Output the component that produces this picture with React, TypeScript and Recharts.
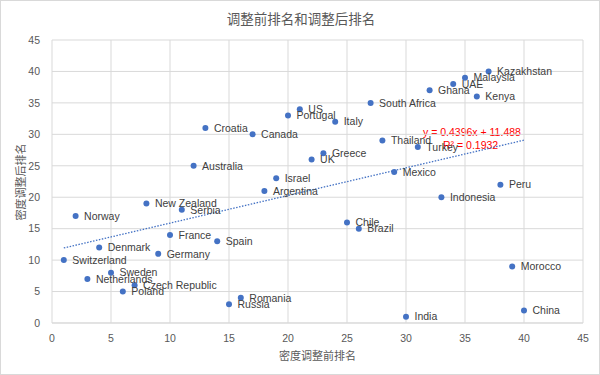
import React from 'react';
import { ScatterChart, Scatter, XAxis, YAxis, CartesianGrid, LabelList, ReferenceLine, Label } from 'recharts';

// 40 countries, rank before / after density adjustment
const countries = [
  'Switzerland', 'Norway', 'Netherlands', 'Denmark', 'Sweden', 'Poland', 'Czech Republic', 'New Zealand',
  'Germany', 'France', 'Serbia', 'Australia', 'Croatia', 'Spain', 'Russia', 'Romania', 'Canada',
  'Argentina', 'Israel', 'Portugal', 'US', 'UK', 'Greece', 'Italy', 'Chile', 'Brazil', 'South Africa',
  'Thailand', 'Mexico', 'India', 'Turkey', 'Ghana', 'Indonesia', 'UAE', 'Malaysia', 'Kenya',
  'Kazakhstan', 'Peru', 'Morocco', 'China',
];
const rankBefore = [
  1, 2, 3, 4, 5, 6, 7, 8, 9, 10, 11, 12, 13, 14, 15, 16, 17, 18, 19, 20,
  21, 22, 23, 24, 25, 26, 27, 28, 29, 30, 31, 32, 33, 34, 35, 36, 37, 38, 39, 40,
];
const rankAfter = [
  10, 17, 7, 12, 8, 5, 6, 19, 11, 14, 18, 25, 31, 13, 3, 4, 30, 21, 23, 33,
  34, 26, 27, 32, 16, 15, 35, 29, 24, 1, 28, 37, 20, 38, 39, 36, 40, 22, 9, 2,
];
const axisTicks = [0, 5, 10, 15, 20, 25, 30, 35, 40, 45];

// linear trendline as printed on the chart
const slope = 0.4396;
const intercept = 11.488;
const rSquared = 0.1932;
const trendRange = [1, 40];

const data = countries.map((name, i) => ({ name, x: rankBefore[i], y: rankAfter[i] }));
const trendSegment = trendRange.map((x) => ({ x, y: slope * x + intercept }));

const cjk = '"Noto Sans CJK SC", sans-serif';
const latin = '"Liberation Sans", Arial, sans-serif';

export default function App() {
  return (
    <div style={{ position: 'absolute', left: 0, top: 0, width: 600, height: 375, background: '#fff', boxSizing: 'border-box', border: '1px solid #d9d9d9' }}>
      <div style={{ position: 'absolute', left: 0, width: 600, top: 7, textAlign: 'center', fontFamily: cjk, fontSize: 13.5, color: '#595959' }}>
        调整前排名和调整后排名
      </div>
      <div style={{ position: 'absolute', left: 19, top: 181, transform: 'translate(-50%, -50%) rotate(-90deg)', fontFamily: cjk, fontSize: 11, color: '#595959', whiteSpace: 'nowrap' }}>
        密度调整后排名
      </div>
      <div style={{ position: 'absolute', left: 422, top: 125, fontFamily: latin, fontSize: 10.5, color: '#ff0000', whiteSpace: 'nowrap' }}>
        y = {slope}x + {intercept}
      </div>
      <div style={{ position: 'absolute', left: 442, top: 138, fontFamily: latin, fontSize: 10.5, color: '#ff0000', whiteSpace: 'nowrap' }}>
        R² = {rSquared}
      </div>
      <ScatterChart width={600} height={375} margin={{ top: 40, right: 17, bottom: 22, left: 0 }} style={{ position: 'absolute', left: -1, top: -1 }}>
        <CartesianGrid stroke="#d9d9d9" />
        <XAxis
          type="number"
          dataKey="x"
          domain={[0, 45]}
          ticks={axisTicks}
          height={30}
          tickLine={false}
          axisLine={{ stroke: '#d9d9d9' }}
          tick={{ fill: '#595959', fontSize: 10.5, fontFamily: latin }}
          tickMargin={6}
        >
          <Label value="密度调整前排名" position="insideBottom" offset={-7} style={{ fill: '#595959', fontSize: 11, fontFamily: cjk }} />
        </XAxis>
        <YAxis
          type="number"
          dataKey="y"
          domain={[0, 45]}
          ticks={axisTicks}
          width={52}
          tickLine={false}
          axisLine={false}
          tick={{ fill: '#595959', fontSize: 10.5, fontFamily: latin }}
          tickMargin={6}
        />
        <ReferenceLine segment={trendSegment} stroke="#4472c4" strokeWidth={1.3} strokeDasharray="1.5 1.5" ifOverflow="visible" />
        <Scatter data={data} fill="#4472c4" isAnimationActive={false} shape={(p: any) => <circle cx={p.cx} cy={p.cy} r={3} fill="#4472c4" />}>
          <LabelList dataKey="name" position="right" offset={4} style={{ fill: '#404040', fontSize: 10.5, fontFamily: latin }} />
        </Scatter>
      </ScatterChart>
    </div>
  );
}
